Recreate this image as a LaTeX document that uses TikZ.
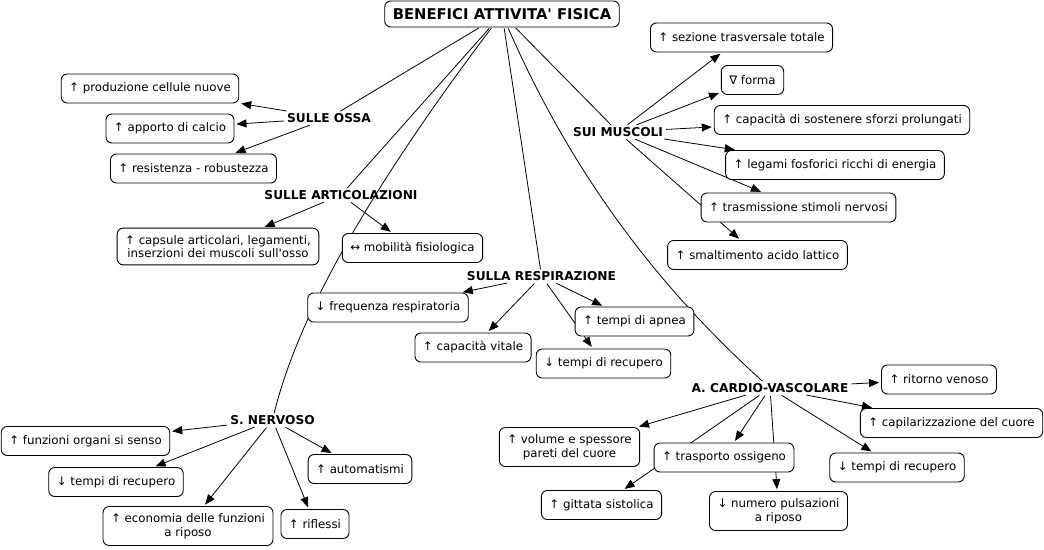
\documentclass[tikz,border=0pt]{standalone}
\usepackage{fontspec}
\setmainfont{DejaVu Sans}
\usepackage{tikz}
\usetikzlibrary{arrows.meta,backgrounds}
\definecolor{ink}{HTML}{000000}
\definecolor{paper}{HTML}{FFFFFF}
\tikzset{
  concept/.style={draw=ink, fill=paper, line width=0.9pt, rounded corners=6pt, align=center,
    font=\fontsize{11.8}{13.5}\selectfont, inner xsep=8pt, inner ysep=7pt, minimum height=29pt},
  topic/.style={concept, font=\bfseries\fontsize{14.8}{16}\selectfont, minimum height=26pt, inner ysep=4pt},
  phrase/.style={text=ink, font=\bfseries\fontsize{12.2}{13.5}\selectfont, inner sep=2pt},
  link/.style={draw=ink, line width=0.8pt, shorten <=1pt},
  arr/.style={link, -{Triangle[length=10pt,width=8pt]}, shorten >=2pt},
}

\begin{document}
\begin{tikzpicture}[x=1pt,y=-1pt]
  \useasboundingbox (0,0) rectangle (1044,549);
  \node[topic] (root) at (502,14) {BENEFICI ATTIVITA\textquotesingle{} FISICA};

  % ossa e articolazioni
  \node[phrase] (ossa) at (329,118) {SULLE OSSA};
  \node[concept] (prod) at (150,88.5) {↑ produzione cellule nuove};
  \node[concept] (calc) at (170,128.5) {↑ apporto di calcio};
  \node[concept] (resist) at (193.5,168.5) {↑ resistenza - robustezza};
  \node[phrase] (artic) at (341,195) {SULLE ARTICOLAZIONI};
  \node[concept] (caps) at (218,246.5) {↑ capsule articolari, legamenti,\\inserzioni dei muscoli sull\textquotesingle osso};
  \node[concept] (mobil) at (412.5,248) {↔ mobilità fisiologica};

  % muscoli
  \node[phrase] (musc) at (618,132) {SUI MUSCOLI};
  \node[concept] (sez) at (741.5,37.5) {↑ sezione trasversale totale};
  \node[concept] (forma) at (752.5,80) {∇ forma};
  \node[concept] (sforzi) at (842,120) {↑ capacità di sostenere sforzi prolungati};
  \node[concept] (legami) at (835,165) {↑ legami fosforici ricchi di energia};
  \node[concept] (trasm) at (798.5,207.5) {↑ trasmissione stimoli nervosi};
  \node[concept] (smalt) at (757.5,255) {↑ smaltimento acido lattico};

  % respirazione
  \node[phrase] (resp) at (541.5,276) {SULLA RESPIRAZIONE};
  \node[concept] (freq) at (388,307.5) {↓ frequenza respiratoria};
  \node[concept] (vitale) at (473,347.5) {↑ capacità vitale};
  \node[concept] (apnea) at (634.5,321.5) {↑ tempi di apnea};
  \node[concept] (recresp) at (603.5,363.5) {↓ tempi di recupero};

  % cardio-vascolare
  \node[phrase] (cardio) at (770,388) {A. CARDIO-VASCOLARE};
  \node[concept] (venoso) at (939,379.5) {↑ ritorno venoso};
  \node[concept] (capil) at (951.5,423) {↑ capilarizzazione del cuore};
  \node[concept] (reccard) at (897,467.5) {↓ tempi di recupero};
  \node[concept] (volume) at (569.5,447) {↑ volume e spessore\\pareti del cuore};
  \node[concept] (ossig) at (724,457.5) {↑ trasporto ossigeno};
  \node[concept] (gittata) at (601.5,505) {↑ gittata sistolica};
  \node[concept] (pulsaz) at (778.5,511) {↓ numero pulsazioni\\a riposo};

  % nervoso
  \node[phrase] (nerv) at (272.5,420) {S. NERVOSO};
  \node[concept] (organi) at (85.5,441) {↑ funzioni organi si senso};
  \node[concept] (recnerv) at (116,482) {↓ tempi di recupero};
  \node[concept] (econ) at (188,526) {↑ economia delle funzioni\\a riposo};
  \node[concept] (rifl) at (315,524) {↑ riflessi};
  \node[concept] (autom) at (360,469) {↑ automatismi};

  \begin{scope}[on background layer]
    \fill[paper] (0,0) rectangle (1044,549);
    \draw[link] (root) -- (ossa);
    \draw[link] (root) -- (artic);
    \draw[link] (root) .. controls (369,190) and (298,316) .. (nerv);
    \draw[link] (root) -- (resp);
    \draw[link] (root) .. controls (566,160) and (646,276) .. (cardio);
    \draw[link] (root) -- (musc);
    \foreach \t in {prod,calc,resist} \draw[arr] (ossa) -- (\t);
    \foreach \t in {caps,mobil} \draw[arr] (artic) -- (\t);
    \foreach \t in {sez,forma,sforzi,legami,trasm,smalt} \draw[arr] (musc) -- (\t);
    \foreach \t in {freq,vitale,apnea,recresp} \draw[arr] (resp) -- (\t);
    \foreach \t in {venoso,capil,reccard,volume,ossig,gittata,pulsaz} \draw[arr] (cardio) -- (\t);
    \foreach \t in {organi,recnerv,econ,rifl,autom} \draw[arr] (nerv) -- (\t);
  \end{scope}
\end{tikzpicture}
\end{document}
